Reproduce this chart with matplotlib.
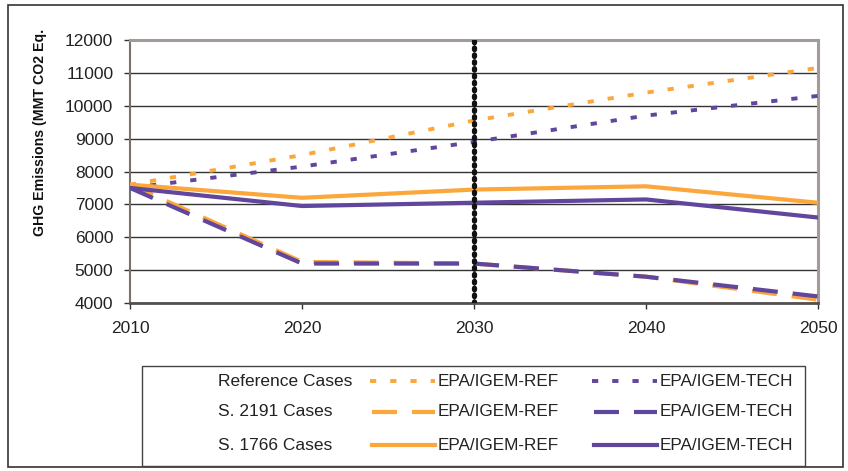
import matplotlib
matplotlib.use("Agg")
import matplotlib.pyplot as plt
from matplotlib.lines import Line2D
from matplotlib.patches import Rectangle

plt.rcParams['font.family'] = ['Liberation Sans', 'DejaVu Sans']

years = [2010, 2020, 2030, 2040, 2050]
ref_ref = [7600, 8500, 9550, 10400, 11150]
ref_tech = [7500, 8150, 8900, 9700, 10300]
s2191_ref = [7600, 5250, 5200, 4800, 4100]
s2191_tech = [7500, 5200, 5200, 4800, 4200]
s1766_ref = [7600, 7200, 7450, 7550, 7050]
s1766_tech = [7500, 6950, 7050, 7150, 6600]
marker_year = 2030
yticks = [4000, 5000, 6000, 7000, 8000, 9000, 10000, 11000, 12000]
row_labels = ["Reference Cases", "S. 2191 Cases", "S. 1766 Cases"]
col_labels = ["EPA/IGEM-REF", "EPA/IGEM-TECH"]

ORANGE = "#FBA73C"
PURPLE = "#60469C"

W, H = 848, 471
fig = plt.figure(figsize=(W / 100, H / 100), dpi=100)

# outer frame
fig.patches.append(Rectangle((8 / W, 4 / H), (843 - 8) / W, (466 - 4) / H, transform=fig.transFigure,
                             fill=False, edgecolor="#333333", linewidth=1.2))

ax = fig.add_axes([130 / W, 1 - 303 / H, (818 - 130) / W, (303 - 40) / H])
ax.set_xlim(2010, 2050)
ax.set_ylim(4000, 12000)
ax.set_yticks(yticks)
ax.set_xticks(years)
ax.tick_params(labelsize=12.5, colors="#333333", length=4, width=1)
for lab in ax.get_yticklabels() + ax.get_xticklabels():
    lab.set_color("#222222")
ax.tick_params(axis="x", pad=9)
ax.tick_params(axis="y", pad=8)
ax.grid(axis="y", color="#333333", linewidth=1)
for s in ["top", "right"]:
    ax.spines[s].set_color("#a39b98")
    ax.spines[s].set_linewidth(2.2)
ax.spines["left"].set_color("#7a706c")
ax.spines["left"].set_linewidth(1.5)
ax.spines["bottom"].set_color("#555050")
ax.spines["bottom"].set_linewidth(2)

lw = 3.0
lwd = 2.8
dot = (0, (1.6, 3.6))
dash = (0, (6.0, 3.6))
ax.plot(years, ref_ref, color=ORANGE, lw=lwd, linestyle=dot, zorder=3)
ax.plot(years, ref_tech, color=PURPLE, lw=lwd, linestyle=dot, zorder=3)
ax.plot(years, s2191_ref, color=ORANGE, lw=lw, linestyle=dash, zorder=3)
ax.plot(years, s2191_tech, color=PURPLE, lw=lw, linestyle=dash, zorder=3)
ax.plot(years, s1766_ref, color=ORANGE, lw=lw, zorder=3)
ax.plot(years, s1766_tech, color=PURPLE, lw=lw, zorder=3)
ax.axvline(marker_year, color="#111111", lw=3.8, linestyle=(0, (0.3, 1.0)), dash_capstyle="round", zorder=4)

fig.text(40 / W, 1 - 29 / H, "GHG Emissions (MMT CO2 Eq.", rotation=90, ha="center", va="top",
         fontsize=10.2, fontweight="bold", color="#111111")

# legend box
fig.patches.append(Rectangle((142 / W, 1 - 466 / H), (805 - 142) / W, (466 - 366) / H,
                             transform=fig.transFigure, fill=False, edgecolor="#444444", linewidth=1))
rows_y = [381, 412, 445]
styles = [dot, dash, "-"]
widths = [lwd, lw, lw]
for label, yy, st, w in zip(row_labels, rows_y, styles, widths):
    yf = 1 - yy / H
    fig.text(218 / W, yf, label, ha="left", va="center", fontsize=12.5, color="#222222")
    fig.lines.append(Line2D([(370 if st is dot else 372) / W, 435 / W], [yf, yf], transform=fig.transFigure,
                            color=ORANGE, lw=w, linestyle=st))
    fig.text(438 / W, yf, col_labels[0], ha="left", va="center", fontsize=12.3, color="#222222")
    fig.lines.append(Line2D([(592 if st is dot else 594) / W, 657 / W], [yf, yf], transform=fig.transFigure,
                            color=PURPLE, lw=w, linestyle=st))
    fig.text(660 / W, yf, col_labels[1], ha="left", va="center", fontsize=12.3, color="#222222")

fig.savefig("out.png", dpi=100)
